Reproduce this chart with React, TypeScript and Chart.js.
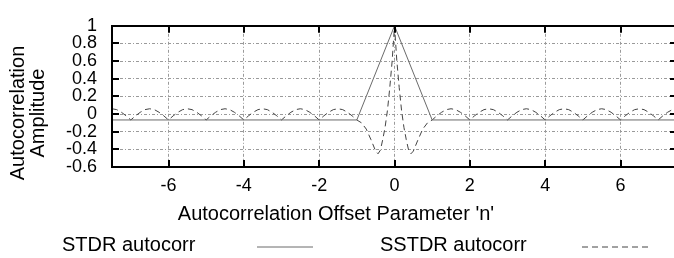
import React, { useEffect, useRef } from 'react';
import { Chart, registerables } from 'chart.js';

Chart.register(...registerables);

const xTicks = [-6, -4, -2, 0, 2, 4, 6];
const yTicks = [-0.6, -0.4, -0.2, 0, 0.2, 0.4, 0.6, 0.8, 1];
const xMin = -7.5;
const xMax = 7.5;
const yMin = -0.6;
const yMax = 1;

const xTitle = "Autocorrelation Offset Parameter 'n'";
const yTitle = ['Autocorrelation', 'Amplitude'];

const stdrLabel = 'STDR autocorr';
const stdrX = [-7.5, -1, 0, 1, 7.5];
const stdrY = [-0.067, -0.067, 1, -0.067, -0.067];

const sstdrLabel = 'SSTDR autocorr';
const sstdrX = [
  -7.5, -7.375, -7.25, -7.125,
  -7, -6.875, -6.75, -6.625, -6.5, -6.375, -6.25, -6.125,
  -6, -5.875, -5.75, -5.625, -5.5, -5.375, -5.25, -5.125,
  -5, -4.875, -4.75, -4.625, -4.5, -4.375, -4.25, -4.125,
  -4, -3.875, -3.75, -3.625, -3.5, -3.375, -3.25, -3.125,
  -3, -2.875, -2.75, -2.625, -2.5, -2.375, -2.25, -2.125,
  -2, -1.875, -1.75, -1.625, -1.5, -1.375, -1.25, -1.125,
  -1, -0.875, -0.75, -0.625, -0.5, -0.4375, -0.375, -0.3125, -0.25, -0.1875, -0.125, -0.0625,
  0,
  0.0625, 0.125, 0.1875, 0.25, 0.3125, 0.375, 0.4375, 0.5, 0.625, 0.75, 0.875, 1,
  1.125, 1.25, 1.375, 1.5, 1.625, 1.75, 1.875,
  2, 2.125, 2.25, 2.375, 2.5, 2.625, 2.75, 2.875,
  3, 3.125, 3.25, 3.375, 3.5, 3.625, 3.75, 3.875,
  4, 4.125, 4.25, 4.375, 4.5, 4.625, 4.75, 4.875,
  5, 5.125, 5.25, 5.375, 5.5, 5.625, 5.75, 5.875,
  6, 6.125, 6.25, 6.375, 6.5, 6.625, 6.75, 6.875,
  7, 7.125, 7.25, 7.375, 7.5,
];
const sstdrY = [
  0.06, 0.05, 0.02, -0.02,
  -0.067, -0.02, 0.02, 0.05, 0.06, 0.05, 0.02, -0.02,
  -0.067, -0.02, 0.02, 0.05, 0.06, 0.05, 0.02, -0.02,
  -0.067, -0.02, 0.02, 0.05, 0.06, 0.05, 0.02, -0.02,
  -0.067, -0.02, 0.02, 0.05, 0.06, 0.05, 0.02, -0.02,
  -0.067, -0.02, 0.02, 0.05, 0.06, 0.05, 0.02, -0.02,
  -0.067, -0.02, 0.02, 0.05, 0.06, 0.05, 0.02, -0.02,
  -0.067, -0.1, -0.17, -0.29, -0.42, -0.45, -0.41, -0.29, -0.15, 0.04, 0.3, 0.6,
  1,
  0.6, 0.3, 0.04, -0.15, -0.29, -0.41, -0.45, -0.42, -0.29, -0.17, -0.1, -0.067,
  -0.02, 0.02, 0.05, 0.06, 0.05, 0.02, -0.02,
  -0.067, -0.02, 0.02, 0.05, 0.06, 0.05, 0.02, -0.02,
  -0.067, -0.02, 0.02, 0.05, 0.06, 0.05, 0.02, -0.02,
  -0.067, -0.02, 0.02, 0.05, 0.06, 0.05, 0.02, -0.02,
  -0.067, -0.02, 0.02, 0.05, 0.06, 0.05, 0.02, -0.02,
  -0.067, -0.02, 0.02, 0.05, 0.06, 0.05, 0.02, -0.02,
  -0.067, -0.02, 0.02, 0.05, 0.06,
];

const FONT = "'Liberation Sans', Arial, Helvetica, sans-serif";

const framePlugin = {
  id: 'gnuplotFrame',
  afterDraw(chart: any) {
    const ctx = chart.ctx as CanvasRenderingContext2D;
    const { left, right, top, bottom } = chart.chartArea;
    const xs = chart.scales.x;
    const ys = chart.scales.y;
    ctx.save();
    // inner tick marks
    ctx.strokeStyle = '#000';
    ctx.lineWidth = 2;
    ctx.setLineDash([]);
    const tl = 7;
    ctx.beginPath();
    xTicks.forEach((v) => {
      const px = Math.round(xs.getPixelForValue(v));
      ctx.moveTo(px, bottom);
      ctx.lineTo(px, bottom - tl);
      ctx.moveTo(px, top);
      ctx.lineTo(px, top + tl);
    });
    yTicks.forEach((v) => {
      const py = Math.round(ys.getPixelForValue(v));
      ctx.moveTo(left, py);
      ctx.lineTo(left + tl, py);
      ctx.moveTo(right, py);
      ctx.lineTo(right - tl, py);
    });
    ctx.stroke();
    // border
    ctx.lineWidth = 2;
    ctx.strokeRect(Math.round(left), Math.round(top), Math.round(right - left), Math.round(bottom - top));

    // axis titles
    ctx.fillStyle = '#000';
    ctx.font = `20px ${FONT}`;
    ctx.textAlign = 'center';
    ctx.textBaseline = 'alphabetic';
    ctx.fillText(xTitle, 336, 220);
    ctx.save();
    ctx.translate(0, 113);
    ctx.rotate(-Math.PI / 2);
    ctx.fillText(yTitle[0], 0, 24);
    ctx.fillText(yTitle[1], 0, 44);
    ctx.restore();

    // legend (gnuplot style: text, then sample)
    const legendItems = [
      { textX: 62, lineX0: 257, lineX1: 313 },
      { textX: 380, lineX0: 582, lineX1: 650 },
    ];
    ctx.textAlign = 'left';
    chart.data.datasets.forEach((ds: any, i: number) => {
      const it = legendItems[i];
      ctx.fillStyle = '#000';
      ctx.fillText(ds.label, it.textX, 251);
      ctx.strokeStyle = ds.borderColor;
      ctx.lineWidth = ds.borderWidth;
      ctx.setLineDash(ds.borderDash || []);
      ctx.beginPath();
      ctx.moveTo(it.lineX0, 247);
      ctx.lineTo(it.lineX1, 247);
      ctx.stroke();
    });
    ctx.restore();
  },
};

export default function App() {
  const ref = useRef<HTMLCanvasElement>(null);
  useEffect(() => {
    const canvas = ref.current;
    if (!canvas) return;
    const tickFont = { family: FONT, size: 18 };
    const chart = new Chart(canvas, {
      type: 'line',
      data: {
        datasets: [
          {
            label: stdrLabel,
            data: stdrX.map((x, i) => ({ x, y: stdrY[i] })),
            borderColor: '#6a6a6a',
            borderWidth: 1,
            pointRadius: 0,
            tension: 0,
            fill: false,
          },
          {
            label: sstdrLabel,
            data: sstdrX.map((x, i) => ({ x, y: sstdrY[i] })),
            borderColor: '#444',
            borderWidth: 1,
            borderDash: [6, 4],
            pointRadius: 0,
            tension: 0,
            fill: false,
          },
        ],
      },
      options: {
        responsive: false,
        animation: false,
        devicePixelRatio: 1,
        layout: { padding: { left: 0, right: 5, top: 13, bottom: 0 } },
        plugins: {
          legend: { display: false },
          tooltip: { enabled: false },
          title: { display: false },
        },
        scales: {
          x: {
            type: 'linear',
            min: xMin,
            max: xMax,
            afterBuildTicks: (s: any) => {
              s.ticks = xTicks.map((v) => ({ value: v }));
            },
            afterFit: (s: any) => {
              s.height = 91;
            },
            grid: { color: '#9a9a9a', lineWidth: 1, drawTicks: false },
            border: { display: false, dash: [3, 2, 1, 2] },
            ticks: {
              padding: 8,
              color: '#000',
              font: tickFont,
              autoSkip: false,
              maxRotation: 0,
              callback: (v: any) => String(v),
            },
          },
          y: {
            type: 'linear',
            min: yMin,
            max: yMax,
            afterBuildTicks: (s: any) => {
              s.ticks = yTicks.map((v) => ({ value: v }));
            },
            afterFit: (s: any) => {
              s.width = 112;
            },
            grid: { color: '#9a9a9a', lineWidth: 1, drawTicks: false },
            border: { display: false, dash: [3, 2, 1, 2] },
            ticks: {
              padding: 15,
              color: '#000',
              font: tickFont,
              autoSkip: false,
              callback: (v: any) => String(v),
            },
          },
        },
      },
      plugins: [framePlugin],
    } as any);
    return () => chart.destroy();
  }, []);
  return (
    <div
      style={{
        position: 'fixed',
        left: 0,
        top: 0,
        width: 674,
        height: 258,
        overflow: 'hidden',
        background: '#fff',
      }}
    >
      <canvas ref={ref} width={682} height={258} style={{ display: 'block', width: 682, height: 258 }} />
    </div>
  );
}
